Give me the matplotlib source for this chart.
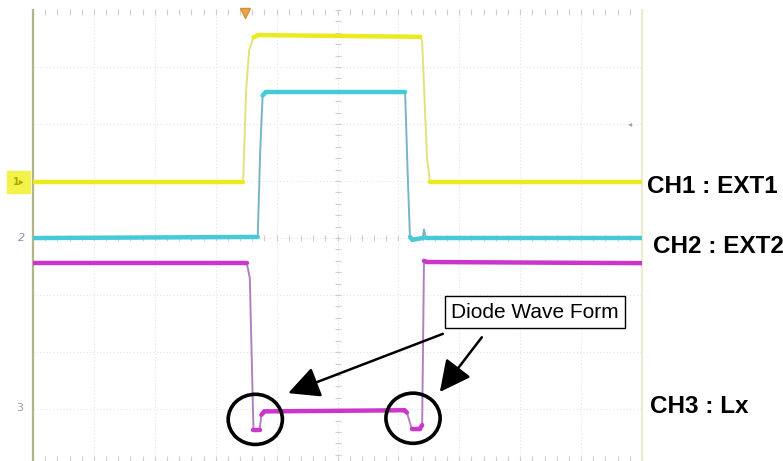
import numpy as np
import matplotlib
matplotlib.use("Agg")
import matplotlib.pyplot as plt
from matplotlib.patches import Ellipse

W, H, DPI = 783, 461, 100

# scope screen in divisions: x 0..10 from the left edge, y from the centre line
Y_TOP, Y_BOTTOM = 4.0, -3.91

# CH1 (EXT1) trace
ch1_t = [0.00, 3.45, 3.50, 3.55, 3.62, 3.70, 6.36, 6.39, 6.47, 6.52, 10.00]
ch1_v = [0.98, 0.98, 2.60, 3.30, 3.52, 3.56, 3.53, 3.45, 1.40, 0.98, 0.98]

# CH2 (EXT2) trace
ch2_t = [0.00, 3.69, 3.73, 3.77, 3.82, 6.11, 6.15, 6.19, 6.23, 6.40, 6.42, 6.45, 10.00]
ch2_v = [0.00, 0.02, 1.50, 2.50, 2.56, 2.56, 1.20, 0.02, -0.03, 0.00, 0.15, 0.00, 0.00]

# CH3 (Lx) trace with the diode dips
ch3_t = [0.00, 3.51, 3.56, 3.62, 3.72, 3.75, 3.80, 6.10, 6.14, 6.22, 6.35,
         6.39, 6.42, 6.47, 10.00]
ch3_v = [-0.44, -0.44, -0.70, -3.37, -3.37, -3.10, -3.04, -3.02, -3.06, -3.35,
         -3.35, -3.28, -0.40, -0.42, -0.44]

# annotation anchors (divisions)
DIP_CENTRES = [(3.65, -3.18), (6.24, -3.16)]
NOTE_XY = (8.24, -1.30)
ARROWS = [((6.73, -1.68), (4.19, -2.72)), ((7.37, -1.74), (6.68, -2.70))]
TRIGGER_T = 3.48

YELLOW, CYAN, MAGENTA = "#eaea1e", "#45cad8", "#cc35cc"
EDGE = {YELLOW: "#e2e27a", CYAN: "#78b4c2", MAGENTA: "#b080c2"}


def px(x, y):
    """pixel position -> figure fraction"""
    return x / W, 1 - y / H


def trace(ax, t, v, color):
    t, v = np.asarray(t), np.asarray(v)
    ax.plot(t, v, color=EDGE[color], lw=1.4, zorder=3, solid_joinstyle="round")
    # slow parts of the trace show up brighter and thicker on the screen
    for i in range(len(t) - 1):
        slope = abs(v[i + 1] - v[i]) / (t[i + 1] - t[i])
        if slope < 2.0:
            ax.plot(t[i:i + 2], v[i:i + 2], color=color, lw=3.2, zorder=4,
                    solid_capstyle="round")


fig = plt.figure(figsize=(W / DPI, H / DPI), dpi=DPI)
fig.patch.set_facecolor("white")
x0, y0 = px(33, 461)
x1, y1 = px(642, 10)
ax = fig.add_axes([x0, y0, x1 - x0, y1 - y0])
ax.set_xlim(0, 10)
ax.set_ylim(Y_BOTTOM, Y_TOP)
ax.set_xticks([])
ax.set_yticks([])
for side in ("top", "bottom"):
    ax.spines[side].set_visible(False)
ax.spines["left"].set_color("#b4b488")
ax.spines["left"].set_linewidth(1.6)
ax.spines["right"].set_color("#ecebd0")
ax.spines["right"].set_linewidth(1.4)

# graticule
grid = dict(color="#e4e4e4", lw=0.8, ls=(0, (1, 2)), zorder=1)
for gx in range(1, 10):
    ax.axvline(gx, **grid)
for gy in range(-3, 4):
    ax.axhline(gy, **grid)
minor_x = np.arange(0, 10.01, 0.2)
minor_y = np.arange(-3.8, 4.01, 0.2)
tick = dict(ls="none", color="#cfcfcf", mew=0.8, zorder=2, clip_on=False)
ax.plot(minor_x, np.zeros_like(minor_x), marker="|", ms=4, **tick)
ax.plot(np.full_like(minor_y, 5.0), minor_y, marker="_", ms=4, **tick)
ax.plot(minor_x, np.full_like(minor_x, Y_TOP - 0.03), marker="|", ms=4, **tick)
ax.plot(minor_x, np.full_like(minor_x, Y_BOTTOM + 0.04), marker="|", ms=4, **tick)

trace(ax, ch1_t, ch1_v, YELLOW)
trace(ax, ch2_t, ch2_v, CYAN)
trace(ax, ch3_t, ch3_v, MAGENTA)

# trigger marker
ax.plot([TRIGGER_T], [Y_TOP - 0.06], marker="v", ms=7, color="#e9a548",
        mec="#d89030", zorder=5, clip_on=False)

# diode circles + callout
for cx, cy in DIP_CENTRES:
    ax.add_patch(Ellipse((cx, cy), 0.89, 0.88, fill=False, lw=2.6,
                         edgecolor="black", zorder=6))
for (sx, sy), (ex, ey) in ARROWS:
    ax.annotate("", xy=(ex, ey), xytext=(sx, sy), zorder=6,
                arrowprops=dict(arrowstyle="-|>,head_length=1.2,head_width=0.6",
                                mutation_scale=16, lw=1.8, color="black",
                                shrinkA=0, shrinkB=0))
ax.text(*NOTE_XY, "Diode Wave Form", ha="center", va="center", fontsize=15,
        family="Liberation Sans", zorder=7,
        bbox=dict(boxstyle="square,pad=0.3", fc="white", ec="black", lw=1.0))

# channel names on the right
label = dict(fontsize=17.5, fontweight="bold", family="Liberation Sans",
             va="baseline", ha="left")
fig.text(*px(647, 193), "CH1 : EXT1", **label)
fig.text(*px(653, 253), "CH2 : EXT2", **label)
fig.text(*px(650, 413), "CH3 : Lx", **label)

# channel ground markers at the left edge
fig.text(*px(13, 182), "1\u25b8", fontsize=7, color="#a8a800", va="center",
         backgroundcolor="#f2f24a", fontweight="bold")
fig.text(*px(18, 238), "2", fontsize=8, color="#8c94b4", va="center",
         style="italic")
fig.text(*px(16, 408), "3", fontsize=8, color="#9a9a9a", va="center")
fig.text(*px(628, 124), "\u25c2", fontsize=6, color="#a0a0a0", va="center")

fig.savefig("out.png", dpi=DPI, facecolor="white")
